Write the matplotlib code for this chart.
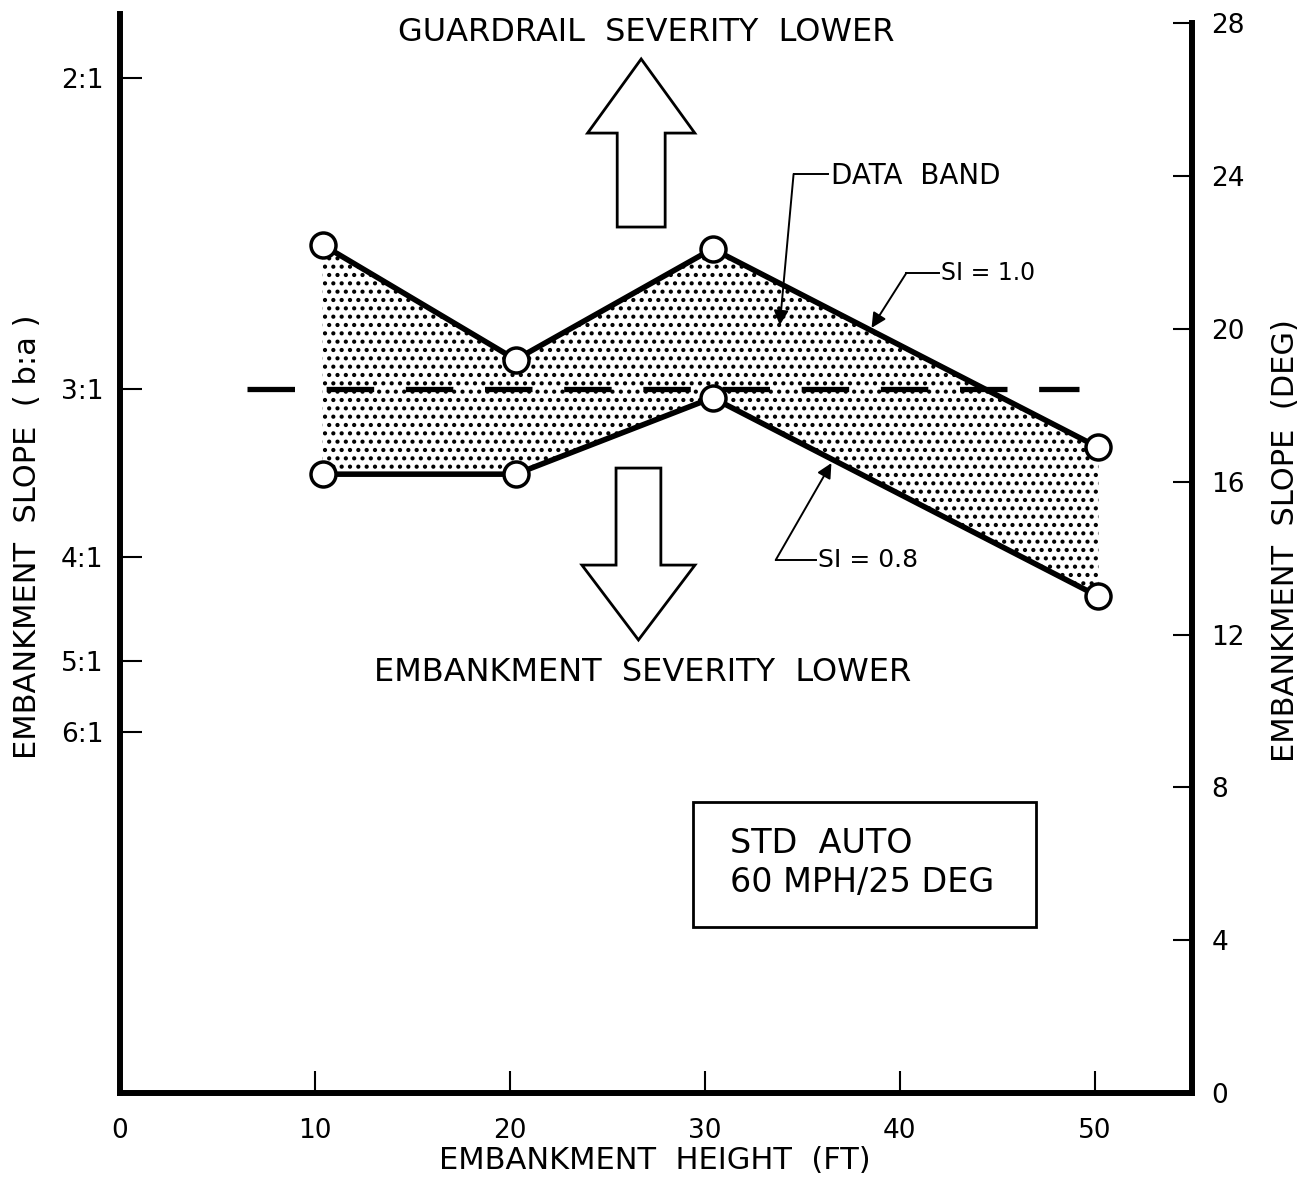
import numpy as np
import matplotlib.pyplot as plt
from matplotlib.patches import Polygon, Rectangle

# Embankment height (ft) and the two severity-index boundaries (slope in deg)
heights = [10.4, 20.3, 30.4, 50.2]
si_10 = [22.2, 19.2, 22.1, 16.9]
si_08 = [16.2, 16.2, 18.2, 13.0]

# b:a slope ratios shown on the left axis
slope_ratios = [2, 3, 4, 5, 6]
slope_labels = ['2:1', '3:1', '4:1', '5:1', '6:1']

deg_ticks = [0, 4, 8, 12, 16, 20, 24, 28]
height_ticks = [0, 10, 20, 30, 40, 50]

# 3:1 reference slope (dashed), drawn between these heights
ref_ratio = 3
ref_span = [6.5, 49.2]


def ratio_to_deg(r):
    return np.degrees(np.arctan(1.0 / np.asarray(r, dtype=float)))


def block_arrow(ax, xc, y_tail, y_base, y_tip, shaft_w, head_w):
    pts = [(xc - shaft_w, y_tail), (xc - shaft_w, y_base), (xc - head_w, y_base),
           (xc, y_tip), (xc + head_w, y_base), (xc + shaft_w, y_base),
           (xc + shaft_w, y_tail)]
    ax.add_patch(Polygon(pts, closed=True, facecolor='white', edgecolor='black',
                         linewidth=2, zorder=4))


plt.rcParams['hatch.linewidth'] = 1.8

fig = plt.figure(figsize=(13.03, 11.78), dpi=100)
ax = fig.add_axes([0.0921, 0.0722, 0.8227, 0.916])
ax.set_xlim(0, 55)
ax.set_ylim(0, 28.25)

# data band between the two SI curves (stippled)
ax.fill_between(heights, si_08, si_10, facecolor='white', edgecolor='black',
                hatch='..', linewidth=0, zorder=1)

ax.plot(ref_span, [ratio_to_deg(ref_ratio)] * 2, color='black', linewidth=3.8,
        linestyle=(0, (9.0, 6.0)), zorder=2)

for ys in (si_10, si_08):
    ax.plot(heights, ys, color='black', linewidth=4, zorder=3,
            marker='o', markersize=18, markerfacecolor='white',
            markeredgecolor='black', markeredgewidth=2.5)

# severity direction arrows
block_arrow(ax, 26.74, 22.67, 25.13, 27.07, 1.23, 2.75)
block_arrow(ax, 26.6, 16.36, 13.82, 11.86, 1.15, 2.9)

ax.text(27.0, 27.75, 'GUARDRAIL  SEVERITY  LOWER', ha='center', va='center',
        fontsize=23)
ax.text(26.8, 11.0, 'EMBANKMENT  SEVERITY  LOWER', ha='center', va='center',
        fontsize=23)

# leaders
arrow_kw = dict(arrowstyle='-|>', color='black', linewidth=1.4,
                mutation_scale=22, shrinkA=0, shrinkB=0)
ax.plot([34.56, 36.3], [24.06, 24.06], color='black', linewidth=1.4)
ax.annotate('', xy=(33.85, 20.1), xytext=(34.56, 24.06), arrowprops=arrow_kw)
ax.text(36.5, 24.0, 'DATA  BAND', ha='left', va='center', fontsize=20)

ax.plot([40.35, 42.0], [21.47, 21.47], color='black', linewidth=1.4)
ax.annotate('', xy=(38.56, 20.03), xytext=(40.35, 21.47), arrowprops=arrow_kw)
ax.text(42.1, 21.47, 'SI = 1.0', ha='left', va='center', fontsize=17)

ax.plot([33.64, 35.7], [13.95, 13.95], color='black', linewidth=1.4)
ax.annotate('', xy=(36.5, 16.49), xytext=(33.64, 13.95), arrowprops=arrow_kw)
ax.text(35.8, 13.95, 'SI = 0.8', ha='left', va='center', fontsize=18)

# test condition box
ax.add_patch(Rectangle((29.4, 4.35), 17.6, 3.27, facecolor='white',
                       edgecolor='black', linewidth=2, zorder=4))
ax.text(31.3, 6.54, 'STD  AUTO', ha='left', va='center', fontsize=24, zorder=5)
ax.text(31.3, 5.5, '60 MPH/25 DEG', ha='left', va='center', fontsize=24, zorder=5)

# axes styling
ax.spines['top'].set_visible(False)
ax.spines['right'].set_visible(False)
for s in ('left', 'bottom'):
    ax.spines[s].set_linewidth(4.3)

ax.set_xticks(height_ticks)
ax.set_xticklabels([str(h) for h in height_ticks])
ax.set_yticks(ratio_to_deg(slope_ratios))
ax.set_yticklabels(slope_labels)
ax.tick_params(axis='x', direction='in', length=16, width=1.5,
               labelsize=19, pad=18)
ax.tick_params(axis='y', direction='in', length=16, width=1.5,
               labelsize=19, pad=12)

ax.set_xlabel('EMBANKMENT  HEIGHT  (FT)', fontsize=22, va='center')
ax.xaxis.set_label_coords(0.499, -0.063)
ax.set_ylabel('EMBANKMENT  SLOPE  ( b:a )', fontsize=22, va='center')
ax.yaxis.set_label_coords(-0.086, 0.515)

ax2 = ax.twinx()
ax2.set_ylim(ax.get_ylim())
for s in ('left', 'top', 'bottom'):
    ax2.spines[s].set_visible(False)
ax2.spines['right'].set_linewidth(4.3)
ax2.spines['right'].set_bounds(0, 28)
ax2.set_yticks(deg_ticks)
ax2.tick_params(axis='y', direction='in', length=14, width=1.5,
                labelsize=19, pad=14)
ax2.set_ylabel('EMBANKMENT  SLOPE  (DEG)', fontsize=22, va='center')
ax2.yaxis.set_label_coords(1.087, 0.512)

fig.savefig('out.png', dpi=100)
